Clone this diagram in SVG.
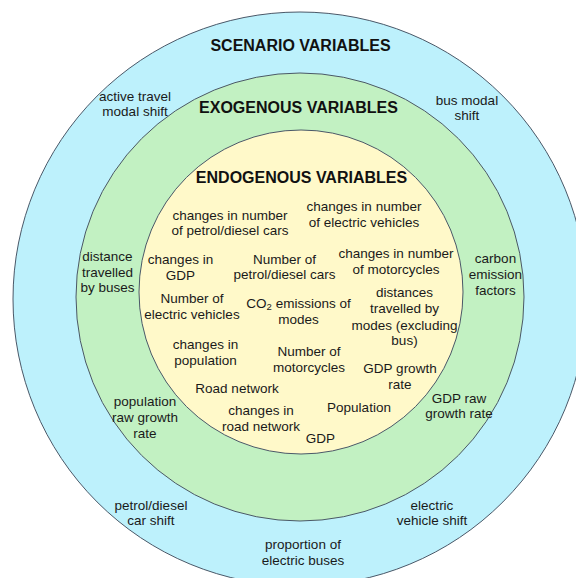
<svg xmlns="http://www.w3.org/2000/svg" width="576" height="578" viewBox="0 0 576 578">
<style>
.ring{stroke:#4a5868;stroke-width:1}
.t{font-family:"Liberation Sans",Arial,sans-serif;font-size:13.5px;fill:#1a1a1a;text-anchor:middle}
.h{font-family:"Liberation Sans",Arial,sans-serif;font-size:16px;font-weight:bold;fill:#111;text-anchor:middle}
</style>
<rect width="576" height="578" fill="#ffffff"/>
<g id="scenario-ring"><circle class="ring" cx="300" cy="299" r="287" fill="#bdf1fc"/></g>
<g id="exogenous-ring"><circle class="ring" cx="300" cy="297" r="224" fill="#c2f1c2"/></g>
<g id="endogenous-ring"><circle class="ring" cx="301" cy="292" r="162" fill="#fff9c9"/></g>
<g id="connectors"></g>
<g id="titles">
<text class="h" x="300.5" y="51">SCENARIO VARIABLES</text>
<text class="h" x="298.5" y="113">EXOGENOUS VARIABLES</text>
<text class="h" x="301.5" y="182.5">ENDOGENOUS VARIABLES</text>
</g>
<g id="scenario-active-travel"><text class="t" x="135" y="101">active travel</text><text class="t" x="135" y="116">modal shift</text></g>
<g id="scenario-bus-modal"><text class="t" x="467" y="105">bus modal</text><text class="t" x="467" y="120">shift</text></g>
<g id="scenario-petrol-diesel"><text class="t" x="151" y="510">petrol/diesel</text><text class="t" x="151" y="525">car shift</text></g>
<g id="scenario-electric-vehicle"><text class="t" x="432" y="510">electric</text><text class="t" x="432" y="525">vehicle shift</text></g>
<g id="scenario-electric-buses"><text class="t" x="303" y="549">proportion of</text><text class="t" x="303" y="565">electric buses</text></g>
<g id="exo-distance-buses"><text class="t" x="107.5" y="261">distance</text><text class="t" x="107.5" y="277">travelled</text><text class="t" x="107.5" y="292">by buses</text></g>
<g id="exo-carbon"><text class="t" x="495.5" y="263">carbon</text><text class="t" x="495.5" y="279">emission</text><text class="t" x="495.5" y="295">factors</text></g>
<g id="exo-population-growth"><text class="t" x="145" y="406">population</text><text class="t" x="145" y="422">raw growth</text><text class="t" x="145" y="438">rate</text></g>
<g id="exo-gdp-growth"><text class="t" x="459" y="403">GDP raw</text><text class="t" x="459" y="418">growth rate</text></g>
<g id="endo-changes-petrol"><text class="t" x="230" y="219.5">changes in number</text><text class="t" x="230" y="235">of petrol/diesel cars</text></g>
<g id="endo-changes-electric"><text class="t" x="364" y="211">changes in number</text><text class="t" x="364" y="226.5">of electric vehicles</text></g>
<g id="endo-changes-gdp"><text class="t" x="180.5" y="264">changes in</text><text class="t" x="180.5" y="279.5">GDP</text></g>
<g id="endo-number-petrol"><text class="t" x="284.5" y="263.5">Number of</text><text class="t" x="284.5" y="279">petrol/diesel cars</text></g>
<g id="endo-changes-motorcycles"><text class="t" x="396" y="258">changes in number</text><text class="t" x="396" y="274">of motorcycles</text></g>
<g id="endo-number-electric"><text class="t" x="192" y="303">Number of</text><text class="t" x="192" y="319">electric vehicles</text></g>
<g id="endo-co2"><text class="t" x="298.5" y="308">CO<tspan font-size="9.5" dy="2">2</tspan><tspan dy="-2"> emissions of</tspan></text><text class="t" x="298.5" y="324">modes</text></g>
<g id="endo-distances"><text class="t" x="404.5" y="297">distances</text><text class="t" x="404.5" y="313">travelled by</text><text class="t" x="404.5" y="329.5">modes (excluding</text><text class="t" x="404.5" y="345">bus)</text></g>
<g id="endo-changes-population"><text class="t" x="205.5" y="349">changes in</text><text class="t" x="205.5" y="365">population</text></g>
<g id="endo-number-motorcycles"><text class="t" x="309" y="356">Number of</text><text class="t" x="309" y="371.5">motorcycles</text></g>
<g id="endo-gdp-growth"><text class="t" x="400" y="373">GDP growth</text><text class="t" x="400" y="388.5">rate</text></g>
<g id="endo-road-network"><text class="t" x="237" y="393">Road network</text></g>
<g id="endo-changes-road"><text class="t" x="261" y="415">changes in</text><text class="t" x="261" y="431">road network</text></g>
<g id="endo-population"><text class="t" x="359" y="412">Population</text></g>
<g id="endo-gdp"><text class="t" x="320.5" y="443">GDP</text></g>
</svg>
